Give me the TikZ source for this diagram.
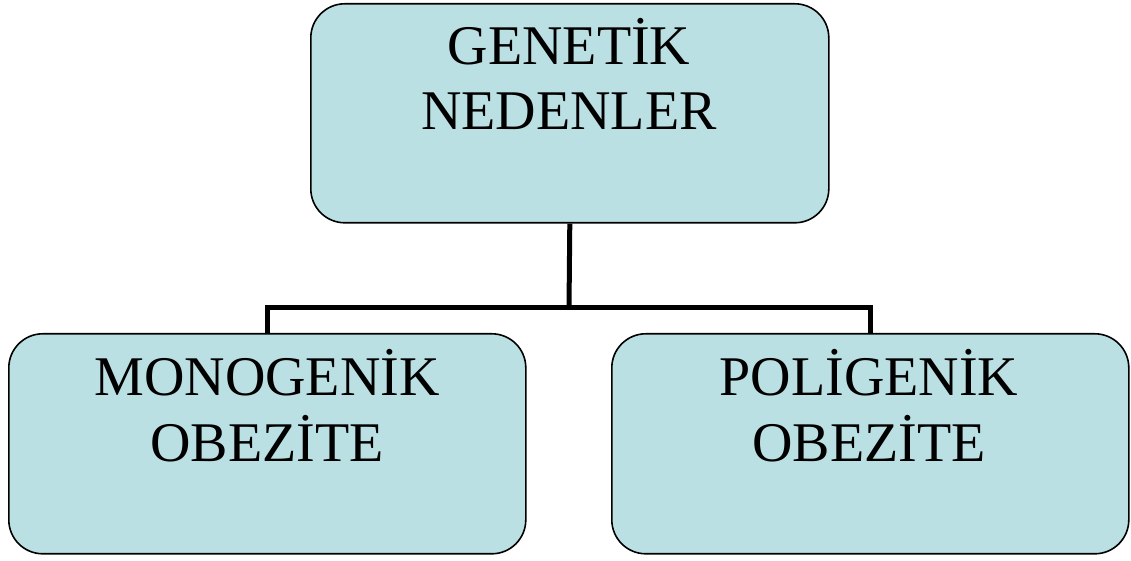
\documentclass[tikz,border=0pt]{standalone}
\usepackage{fontspec}
\setmainfont{Liberation Serif}
\definecolor{boxfill}{HTML}{BBE0E3}
\begin{document}
\begin{tikzpicture}[x=1pt,y=1pt,
  box/.style={draw=black, line width=1.6pt, fill=boxfill, rounded corners=34pt, inner sep=0pt, anchor=north west},
  lbl/.style={font=\fontsize{56}{66}\selectfont, anchor=base, inner sep=0pt},
  conn/.style={line width=5pt, draw=black}]
\useasboundingbox (0,0) rectangle (1131,561);
% boxes
\node[box, minimum width=518pt, minimum height=219pt] (top) at (310,558) {};
\node[box, minimum width=517pt, minimum height=220pt] (left) at (8,228) {};
\node[box, minimum width=517pt, minimum height=220pt] (right) at (611,228) {};
% texts
\node[lbl] (t1) at (569,496) {GENETİK};
\node[lbl] (t2) at (569,431) {NEDENLER};
\node[lbl] (l1) at (267,165) {MONOGENİK};
\node[lbl] (l2) at (267,99) {OBEZİTE};
\node[lbl] (r1) at (869,165) {POLİGENİK};
\node[lbl] (r2) at (869,99) {OBEZİTE};
% connectors
\coordinate (j) at (569,253);
\draw[conn] (top.south) -- (j);
\draw[conn] (left.north -| {(267,0)}) |- (j) -| (right.north -| {(870,0)});
\end{tikzpicture}
\end{document}
